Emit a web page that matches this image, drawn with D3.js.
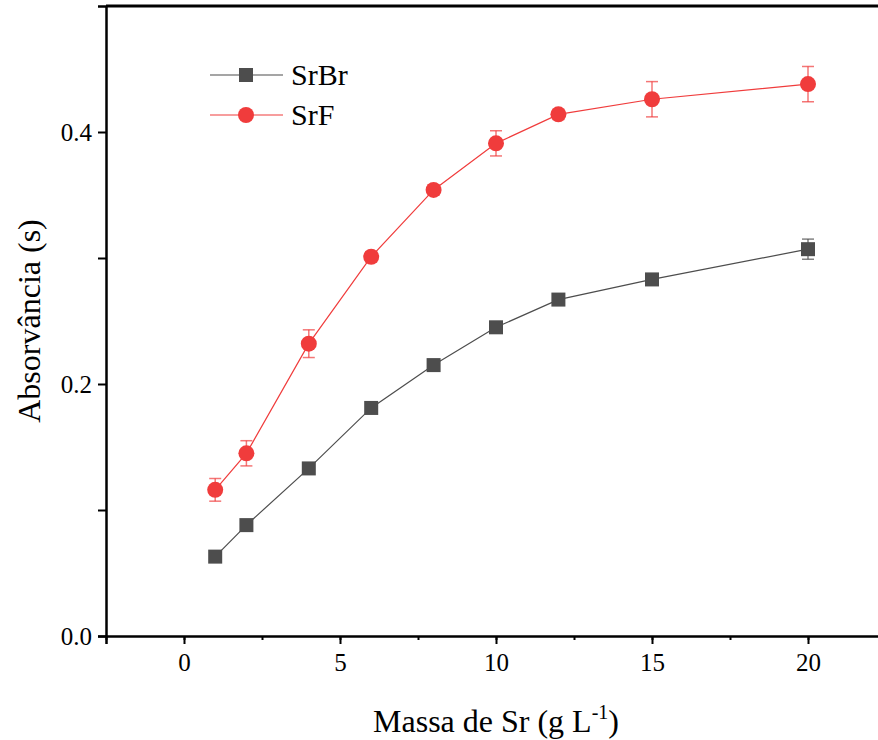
<!DOCTYPE html>
<html>
<head>
<meta charset="utf-8">
<script src="https://cdn.jsdelivr.net/npm/d3@7"></script>
<style>
  html, body { margin: 0; padding: 0; background: #fff; overflow: hidden; }
  svg { display: block; }
</style>
</head>
<body>
<svg id="chart" width="878" height="740"></svg>
<script>
  // Valores
  const massa = [1, 2, 4, 6, 8, 10, 12, 15, 20];
  const srBr = [0.063, 0.088, 0.133, 0.181, 0.215, 0.245, 0.267, 0.283, 0.307];
  const srBrErr = [0.003, 0.003, 0.003, 0.003, 0.003, 0.003, 0.003, 0.003, 0.008];
  const srF = [0.116, 0.145, 0.232, 0.301, 0.354, 0.391, 0.414, 0.426, 0.438];
  const srFErr = [0.009, 0.010, 0.011, 0.004, 0.004, 0.010, 0.004, 0.014, 0.014];
  const xTicks = [0, 5, 10, 15, 20];
  const yTicks = [0.0, 0.2, 0.4];

  const GRAY = "#4d4d4d";
  const RED = "#f03c3c";
  const FONT = "Liberation Serif";

  const svg = d3.select("#chart");
  const mLeft = 106, mTop = 6, mBottom = 636;

  const x = d3.scaleLinear().domain([-2.5, 22.5]).range([mLeft, mLeft + 25 * 31.2]);
  const y = d3.scaleLinear().domain([0, 0.5]).range([mBottom, mTop]);

  // eixo X
  const gx = svg.append("g").attr("transform", `translate(0,${mBottom})`);
  gx.append("g")
    .call(d3.axisBottom(x).tickValues(d3.range(-2.5, 22.6, 2.5)).tickSize(4).tickFormat(""))
    .call((g) => g.select(".domain").remove());
  gx.append("g")
    .call(d3.axisBottom(x).tickValues(xTicks).tickSize(8).tickPadding(9).tickFormat(d3.format("d")));
  gx.selectAll(".tick line").attr("stroke", "#000").attr("stroke-width", 2);
  gx.selectAll("text").attr("font-size", 25).attr("fill", "#000").style("font-family", FONT);
  gx.selectAll(".domain").attr("stroke-width", 2.5);

  // eixo Y
  const gy = svg.append("g").attr("transform", `translate(${mLeft},0)`);
  gy.append("g")
    .call(d3.axisLeft(y).tickValues([0.1, 0.3]).tickSize(8).tickFormat(""))
    .call((g) => g.select(".domain").remove());
  gy.append("g")
    .call(d3.axisLeft(y).tickValues(yTicks).tickSize(8).tickPadding(6).tickFormat(d3.format(".1f")));
  gy.selectAll(".tick line").attr("stroke", "#000").attr("stroke-width", 2);
  gy.selectAll("text").attr("font-size", 25).attr("fill", "#000").style("font-family", FONT);
  gy.selectAll(".domain").attr("stroke-width", 2.5);

  // borda superior
  svg.append("line")
    .attr("x1", mLeft).attr("x2", 878)
    .attr("y1", y(0.5)).attr("y2", y(0.5))
    .attr("stroke", "#000").attr("stroke-width", 3);

  // títulos
  const xt = svg.append("text")
    .attr("x", 496).attr("y", 732)
    .attr("text-anchor", "middle")
    .attr("font-size", 32)
    .style("font-family", FONT);
  xt.append("tspan").text("Massa de Sr (g L");
  xt.append("tspan").attr("font-size", 20).attr("dy", -13).text("-1");
  xt.append("tspan").attr("dy", 13).text(")");

  svg.append("text")
    .attr("transform", `translate(40,${(mTop + mBottom) / 2}) rotate(-90)`)
    .attr("text-anchor", "middle")
    .attr("font-size", 32)
    .style("font-family", FONT)
    .text("Absorvância (s)");

  const series = [
    { name: "SrBr", values: srBr, err: srBrErr, color: GRAY, shape: "square" },
    { name: "SrF", values: srF, err: srFErr, color: RED, shape: "circle" },
  ];

  const line = d3.line().x((d) => x(d[0])).y((d) => y(d[1]));

  function drawMarker(g, shape, color) {
    if (shape === "square") {
      g.append("rect").attr("x", -7).attr("y", -7).attr("width", 14).attr("height", 14).attr("fill", color);
    } else {
      g.append("circle").attr("r", 8).attr("fill", color);
    }
  }

  series.forEach((s) => {
    const pts = massa.map((m, i) => [m, s.values[i], s.err[i]]);
    const g = svg.append("g");
    g.append("path").datum(pts)
      .attr("d", line)
      .attr("fill", "none")
      .attr("stroke", s.color)
      .attr("stroke-width", 1.2);

    const eb = g.append("g").attr("stroke", s.color).attr("stroke-opacity", 0.7).attr("stroke-width", 1.5);
    pts.forEach((p) => {
      const cx = x(p[0]), y1 = y(p[1] - p[2]), y2 = y(p[1] + p[2]);
      eb.append("line").attr("x1", cx).attr("x2", cx).attr("y1", y1).attr("y2", y2);
      eb.append("line").attr("x1", cx - 6).attr("x2", cx + 6).attr("y1", y1).attr("y2", y1);
      eb.append("line").attr("x1", cx - 6).attr("x2", cx + 6).attr("y1", y2).attr("y2", y2);
    });

    pts.forEach((p) => {
      const mg = g.append("g").attr("transform", `translate(${x(p[0])},${y(p[1])})`);
      drawMarker(mg, s.shape, s.color);
    });
  });

  // legenda
  const legend = svg.append("g").attr("transform", "translate(210,75)");
  series.forEach((s, i) => {
    const lg = legend.append("g").attr("transform", `translate(0,${i * 40})`);
    lg.append("line").attr("x1", 0).attr("x2", 73).attr("stroke", s.color).attr("stroke-width", 1.2);
    const mg = lg.append("g").attr("transform", "translate(36,0)");
    drawMarker(mg, s.shape, s.color);
    lg.append("text").attr("x", 81).attr("y", 10).attr("font-size", 30)
      .style("font-family", FONT).text(s.name);
  });
</script>
</body>
</html>
